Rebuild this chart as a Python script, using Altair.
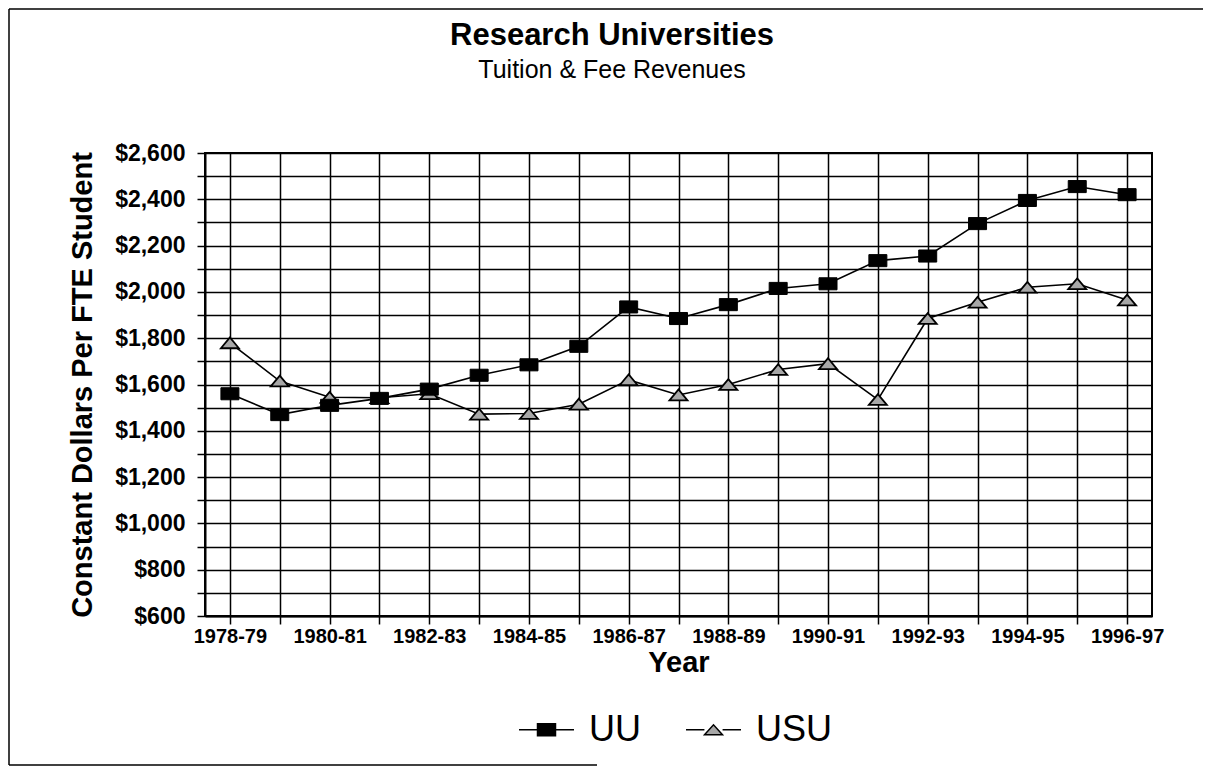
import altair as alt
import pandas as pd

years = ["1978-79", "1979-80", "1980-81", "1981-82", "1982-83", "1983-84", "1984-85",
         "1985-86", "1986-87", "1987-88", "1988-89", "1989-90", "1990-91", "1991-92",
         "1992-93", "1993-94", "1994-95", "1995-96", "1996-97"]
uu = [1560, 1470, 1510, 1540, 1580, 1640, 1685, 1765, 1935, 1885, 1945, 2015, 2035,
      2135, 2155, 2295, 2395, 2455, 2420]
usu = [1780, 1615, 1545, 1543, 1560, 1472, 1475, 1515, 1620, 1555, 1600, 1665, 1690,
       1535, 1885, 1955, 2020, 2035, 1965]
series_names = ["UU", "USU"]
x_tick_labels = ["1978-79", "1980-81", "1982-83", "1984-85", "1986-87", "1988-89",
                 "1990-91", "1992-93", "1994-95", "1996-97"]
y_ticks = list(range(600, 2601, 100))
title_text = "Research Universities"
subtitle_text = "Tuition & Fee Revenues"

rows = []
for i, y in enumerate(years):
    rows.append({"year": y, "series": "UU", "value": uu[i]})
    rows.append({"year": y, "series": "USU", "value": usu[i]})
df = pd.DataFrame(rows)

FONT = "Liberation Sans"
W, H = 947, 463
PL, PT, PR, PB = 197, 145, 51, 150

label_list = "[" + ",".join("'%s'" % s for s in x_tick_labels) + "]"

x_enc = alt.X("year:N", sort=years, scale=alt.Scale(type="point", padding=0.5),
              axis=alt.Axis(title="Year", labelAngle=0, labelFontSize=20, labelFontWeight="bold",
                            labelPadding=2, labelExpr="indexof(%s, datum.value) >= 0 ? datum.label : ''" % label_list,
                            titleFontSize=29, titleFontWeight="bold", titlePadding=2))
y_enc = alt.Y("value:Q", scale=alt.Scale(domain=[600, 2600], nice=False, zero=False),
              axis=alt.Axis(title="Constant Dollars Per FTE Student", values=y_ticks, format="$,.0f",
                            labelExpr="datum.value % 200 === 0 ? datum.label : ''",
                            labelFontSize=23, labelFontWeight="bold", labelPadding=12,
                            titleFontSize=29, titleFontWeight="bold", titleAngle=270,
                            titleX=-123, titleY=H / 2, titleBaseline="middle", titleAlign="center"))

base = alt.Chart(df)

lines = base.mark_line(color="black", strokeWidth=1.6).encode(x=x_enc, y=y_enc, detail="series:N")

sq_path = "M-1,-0.67L1,-0.67L1,0.67L-1,0.67Z"
tri_path = "M-1,0.6L0,-0.6L1,0.6Z"

pts_uu = base.transform_filter(alt.datum.series == "UU").mark_point(
    shape=sq_path, size=324, filled=True, fill="black", stroke="black", strokeWidth=1, opacity=1
).encode(x=x_enc, y=y_enc)
pts_usu = base.transform_filter(alt.datum.series == "USU").mark_point(
    shape=tri_path, size=324, filled=True, fill="#a8a8a8", stroke="black", strokeWidth=1.8, opacity=1
).encode(x=x_enc, y=y_enc)

leg_sq = "M-1,0L1,0M-0.327,-0.218L0.327,-0.218L0.327,0.218L-0.327,0.218Z"
leg_tri = "M-1,0L-0.33,0M0.33,0L1,0M-0.327,0.18L0,-0.18L0.327,0.18Z"
leg = alt.Legend(title=None, orient="none", legendX=313, legendY=548, direction="horizontal",
                 labelFont=FONT, labelFontSize=36, labelColor="black", symbolSize=3025,
                 symbolStrokeWidth=1.5, labelOffset=14, columnPadding=42, symbolOpacity=1)
legend_layer = base.transform_filter("datum.value < 0").mark_point(
    filled=True, strokeWidth=1.5, opacity=1, size=3025
).encode(
    x=x_enc, y=y_enc,
    shape=alt.Shape("series:N", scale=alt.Scale(domain=series_names, range=[leg_sq, leg_tri]), legend=leg),
    fill=alt.Fill("series:N", scale=alt.Scale(domain=series_names, range=["black", "#a8a8a8"]), legend=leg),
    stroke=alt.Stroke("series:N", scale=alt.Scale(domain=series_names, range=["black", "black"]), legend=leg),
)

one = pd.DataFrame({"k": [0]})
title_layer = alt.Chart(one).mark_text(
    text=title_text, font=FONT, fontSize=31, fontWeight="bold", color="black",
    align="center", baseline="alphabetic"
).encode(x=alt.value(407), y=alt.value(-108))
subtitle_layer = alt.Chart(one).mark_text(
    text=subtitle_text, font=FONT, fontSize=25, color="black",
    align="center", baseline="alphabetic"
).encode(x=alt.value(407), y=alt.value(-75))

# outer frame of the chart area
frame_top = alt.Chart(one).mark_rule(color="black", strokeWidth=1.5).encode(
    x=alt.value(-196), x2=alt.value(W + PR + 5), y=alt.value(-144))
frame_left = alt.Chart(one).mark_rule(color="black", strokeWidth=1.5).encode(
    x=alt.value(-196), y=alt.value(-144), y2=alt.value(H + PB - 1))
frame_bottom = alt.Chart(one).mark_rule(color="black", strokeWidth=1.5).encode(
    x=alt.value(-196), x2=alt.value(392), y=alt.value(H + PB - 1))

chart = alt.layer(lines, pts_usu, pts_uu, legend_layer, title_layer, subtitle_layer,
                  frame_top, frame_left, frame_bottom).properties(
    width=W, height=H,
    autosize=alt.AutoSizeParams(type="none"),
    padding={"left": PL, "top": PT, "right": PR, "bottom": PB},
    background="white",
).configure_view(stroke="black", strokeWidth=2).configure_axis(
    grid=True, gridColor="black", gridWidth=1.5, gridOpacity=1,
    domainColor="black", domainWidth=2, tickColor="black", tickWidth=1.5, tickSize=8,
    labelColor="black", titleColor="black", labelFont=FONT, titleFont=FONT,
).configure_legend(labelFont=FONT)

chart.save("out.html", embed_options={"renderer": "svg", "actions": False})
